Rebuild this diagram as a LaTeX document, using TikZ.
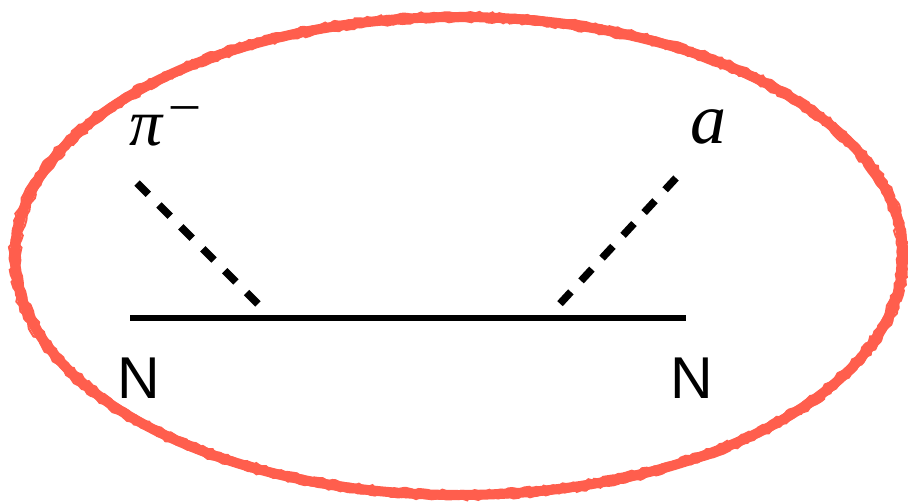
\documentclass[tikz,border=0pt]{standalone}
\usepackage{fontspec}
\newfontfamily\nfont{Liberation Sans}
\newfontfamily\gfont{Liberation Serif}
\usetikzlibrary{decorations.pathmorphing}
\definecolor{sketchred}{RGB}{255,94,77}
\tikzset{
  ring/.style={draw=sketchred, line width=10pt},
  ringrough/.style={draw=sketchred, line width=2pt, decorate, decoration={random steps, segment length=4pt, amplitude=1.5pt}},
  prop/.style={draw=black, line width=5.5pt},
  scalar/.style={draw=black, line width=7.5pt, dash pattern=on 16pt off 15pt},
  mathlabel/.style={anchor=base west, inner sep=0pt, font=\gfont\itshape\fontsize{66}{66}\selectfont},
  alabel/.style={anchor=base west, inner sep=0pt, font=\gfont\itshape\fontsize{72}{72}\selectfont},
  nlabel/.style={anchor=base, inner sep=0pt, font=\nfont\fontsize{59}{59}\selectfont},
}
\begin{document}
\begin{tikzpicture}[x=1pt,y=-1pt]
\useasboundingbox (0,0) rectangle (908,503);
% sketchy ellipse
\draw[ring] (459,256) ellipse [x radius=444, y radius=239];
\draw[ringrough] (459,256) ellipse [x radius=449, y radius=243];
\draw[ringrough] (459,256) ellipse [x radius=439, y radius=235];
% vertices and endpoints
\coordinate (l) at (130,318);
\coordinate (r) at (686,318);
\coordinate (v1) at (262,308);
\coordinate (v2) at (556,308);
\coordinate (pin) at (137,183);
\coordinate (aout) at (676,178);
\draw[prop] (l) -- (r);
\draw[scalar] (pin) -- (v1);
\draw[scalar] (aout) -- (v2);
% labels
\node[mathlabel] (pilab) at (129,145) {π\kern 9pt\raisebox{25pt}{\upshape\fontsize{54}{54}\selectfont –}};
\node[alabel] (alab) at (690,143) {a};
\node[nlabel] (n1) at (139,398) {N};
\node[nlabel] (n2) at (692,398) {N};
\end{tikzpicture}
\end{document}
